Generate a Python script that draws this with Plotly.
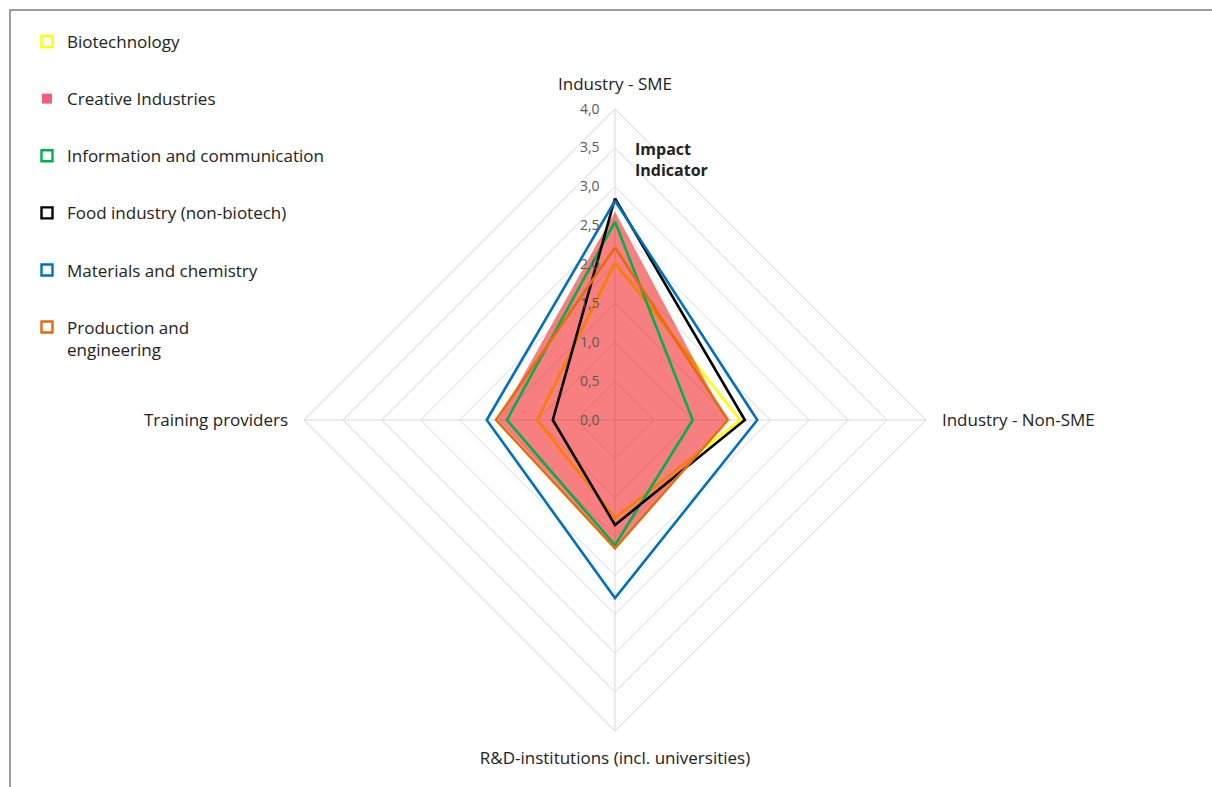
import plotly.graph_objects as go

categories = ["Industry - SME", "Industry - Non-SME", "R&D-institutions (incl. universities)", "Training providers"]

series_names = ["Biotechnology", "Creative Industries", "Information and communication",
                "Food industry (non-biotech)", "Materials and chemistry", "Production and<br>engineering"]

biotech = [2.02, 1.61, 1.26, 1.00]
creative = [2.68, 1.43, 1.63, 1.50]
ict = [2.55, 1.00, 1.61, 1.39]
food = [2.85, 1.67, 1.35, 0.80]
materials = [2.82, 1.83, 2.29, 1.65]
production = [2.22, 1.45, 1.65, 1.53]

radial_ticks = [0, 0.5, 1, 1.5, 2, 2.5, 3, 3.5, 4]

line_colors = ["#FFFF00", None, "#00B050", "#000000", "#0070C0", "#E46C0A"]
values = [biotech, creative, ict, food, materials, production]

fig = go.Figure()

def closed(v):
    return list(v) + [v[0]]

theta_closed = categories + [categories[0]]

for i, (name, v) in enumerate(zip(series_names, values)):
    if i == 1:
        fig.add_trace(go.Scatterpolar(
            r=closed(v), theta=theta_closed, mode="lines", fill="toself",
            fillcolor="rgba(240,0,0,0.5)", line=dict(width=0, color="rgba(0,0,0,0)"),
            showlegend=False, hoverinfo="skip"))
    else:
        fig.add_trace(go.Scatterpolar(
            r=closed(v), theta=theta_closed, mode="lines",
            line=dict(width=2.6, color=line_colors[i]),
            showlegend=False))

# legend entries
for i, name in enumerate(series_names):
    if i == 1:
        marker = dict(symbol="square", size=10, color="#F0607A", line=dict(width=0))
    else:
        marker = dict(symbol="square-open", size=11, color=line_colors[i], line=dict(width=2.4, color=line_colors[i]))
    fig.add_trace(go.Scatterpolar(
        r=[None], theta=[categories[0]], mode="markers", name=name,
        marker=marker, legendgroup=f"g{i}", showlegend=True))

W, H = 1212, 787
cx, cy, R = 615, 420, 311

fig.update_layout(
    width=W, height=H,
    margin=dict(l=0, r=0, t=0, b=0),
    paper_bgcolor="white",
    separators=",.",
    font=dict(family="Open Sans, Lato, sans-serif", size=17, color="#222222"),
    polar=dict(
        domain=dict(x=[(cx - R) / W, (cx + R) / W], y=[(H - cy - R) / H, (H - cy + R) / H]),
        bgcolor="rgba(0,0,0,0)",
        gridshape="linear",
        angularaxis=dict(rotation=90, direction="clockwise", showline=True,
                         linecolor="#D9D9D9", linewidth=1,
                         gridcolor="#D9D9D9", gridwidth=1,
                         ticks="outside", ticklen=12, tickcolor="rgba(0,0,0,0)",
                         tickfont=dict(size=17, color="#222222")),
        radialaxis=dict(range=[0, 4], tickvals=radial_ticks, tickformat=".1f",
                        angle=90, side="counterclockwise", showline=False,
                        gridcolor="#D9D9D9", gridwidth=1,
                        ticks="outside", ticklen=10, tickcolor="rgba(0,0,0,0)",
                        tickangle=90, tickfont=dict(size=14, color="#595959")),
    ),
    legend=dict(x=27 / W, y=1 - 24 / H, xanchor="left", yanchor="top", valign="top",
                tracegroupgap=32, font=dict(size=17, color="#222222"),
                bgcolor="rgba(0,0,0,0)"),
    annotations=[dict(text="<b>Impact<br>Indicator</b>", x=633 / W, y=1 - 160 / H,
                      xref="paper", yref="paper", xanchor="left", yanchor="middle",
                      align="left", showarrow=False, font=dict(size=16, color="#222222"))],
    shapes=[dict(type="rect", xref="paper", yref="paper", x0=10 / W, y0=-0.05, x1=1.05, y1=1 - 10 / H,
                 line=dict(color="#7F7F7F", width=1.5))],
)

fig.write_html("out.html")
